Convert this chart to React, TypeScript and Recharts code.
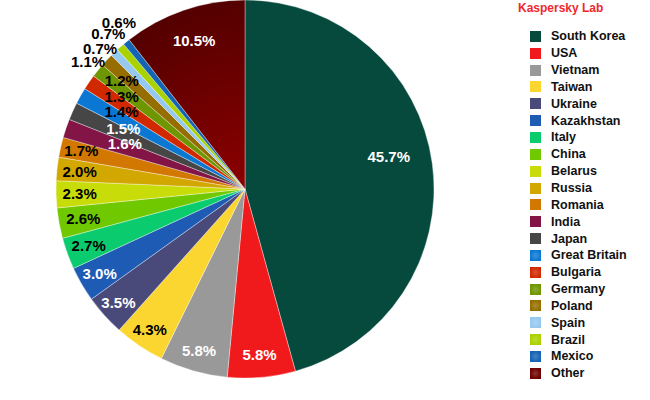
import { PieChart, Pie, Cell, Legend } from "recharts";

const countries = [
  "South Korea", "USA", "Vietnam", "Taiwan", "Ukraine", "Kazakhstan", "Italy",
  "China", "Belarus", "Russia", "Romania", "India", "Japan", "Great Britain",
  "Bulgaria", "Germany", "Poland", "Spain", "Brazil", "Mexico", "Other",
];

const shares = [
  45.7, 5.8, 5.8, 4.3, 3.5, 3.0, 2.7, 2.6, 2.3, 2.0, 1.7, 1.6, 1.5, 1.4, 1.3,
  1.2, 1.1, 0.7, 0.7, 0.6, 10.5,
];

const colors = [
  "#064a3e", "#f0191c", "#999999", "#fcd630", "#4a4a7a", "#1e5bb5", "#0acc6e",
  "#70c800", "#c8dc0a", "#d2a800", "#d27800", "#821446", "#464646", "#0a78d2",
  "#d22800", "#6e9600", "#966e00", "#96c8f0", "#aad200", "#1464b4", "#6e0000",
];

const data = countries.map((name, i) => ({ name, value: shares[i] }));

// label distance from centre as a share of the radius (crowded slices pulled in)
const labelRadius = [
  0.78, 0.88, 0.89, 0.9, 0.9, 0.89, 0.88, 0.87, 0.875, 0.88, 0.89, 0.68, 0.72,
  0.77, 0.815, 0.87, 1.069, 1.069, 1.095, 1.106, 0.83,
];
// clockwise nudge of the label angle, degrees, to keep crowded labels apart
const labelShift = [
  -5, 0, 0, 0, 0, 0, 0, 0, 0, 0, 0.5, 2, 2.3, 2.5, 2.4, 2.6, -4, -2.1, -0.1,
  1.8, 0,
];
const whiteLabels = [0, 1, 2, 4, 5, 11, 12, 20];
const glowIcons = [13, 14, 15, 16, 17, 18, 19, 20];

const RADIAN = Math.PI / 180;
const FONT = "'Liberation Sans', Arial, sans-serif";

function renderLabel(props: any) {
  const { cx, cy, midAngle, outerRadius, index, value } = props;
  const r = outerRadius * labelRadius[index];
  const a = midAngle - labelShift[index];
  const x = cx + r * Math.cos(-a * RADIAN);
  const y = cy + r * Math.sin(-a * RADIAN);
  return (
    <text
      x={x}
      y={y}
      textAnchor="middle"
      dominantBaseline="central"
      fill={whiteLabels.includes(index) ? "#ffffff" : "#000000"}
      fontSize={15}
      fontWeight="bold"
      fontFamily={FONT}
    >
      {value.toFixed(1)}%
    </text>
  );
}

function LegendBox() {
  return (
    <div style={{ fontFamily: FONT }}>
      <div
        style={{
          color: "#f0282d",
          fontWeight: "bold",
          fontSize: 12,
          marginLeft: -12,
          lineHeight: "14px",
          marginBottom: 13,
        }}
      >
        Kaspersky Lab
      </div>
      <svg width={12} height={0} style={{ position: "absolute" }}>
        <defs>
          {glowIcons.map((i) => (
            <radialGradient key={i} id={`glow${i}`}>
              <stop offset="0%" stopColor="#ffffff" stopOpacity={0.2} />
              <stop offset="100%" stopColor="#ffffff" stopOpacity={0} />
            </radialGradient>
          ))}
        </defs>
      </svg>
      {countries.map((name, i) => (
        <div
          key={name}
          style={{
            display: "flex",
            alignItems: "center",
            height: 16.85,
            fontSize: 12.5,
            fontWeight: "bold",
            color: "#111",
          }}
        >
          <svg width={11} height={11} style={{ marginRight: 10 }}>
            <rect width={11} height={11} fill={colors[i]} />
            {glowIcons.includes(i) && (
              <rect width={11} height={11} fill={`url(#glow${i})`} />
            )}
          </svg>
          {name}
        </div>
      ))}
    </div>
  );
}

export default function App() {
  return (
    <div style={{ position: "absolute", left: 0, top: 0, background: "#fff" }}>
      <PieChart width={650} height={400} margin={{ top: 0, right: 0, bottom: 0, left: 0 }}>
        <defs>
          <radialGradient
            id="otherFill"
            gradientUnits="userSpaceOnUse"
            cx={245}
            cy={189}
            r={189}
          >
            <stop offset="0%" stopColor="#8c0000" />
            <stop offset="100%" stopColor="#540000" />
          </radialGradient>
        </defs>
        <Pie
          data={data}
          dataKey="value"
          nameKey="name"
          cx={245}
          cy={189}
          outerRadius={189}
          startAngle={90}
          endAngle={-270}
          stroke="#ffffff"
          strokeWidth={0.6}
          strokeOpacity={0.6}
          label={renderLabel}
          labelLine={false}
          isAnimationActive={false}
        >
          {data.map((d, i) => (
            <Cell key={d.name} fill={i === 20 ? "url(#otherFill)" : colors[i]} />
          ))}
        </Pie>
        <Legend
          layout="vertical"
          align="right"
          verticalAlign="top"
          wrapperStyle={{ left: 530, top: 1, width: 120 }}
          content={() => <LegendBox />}
        />
      </PieChart>
    </div>
  );
}
